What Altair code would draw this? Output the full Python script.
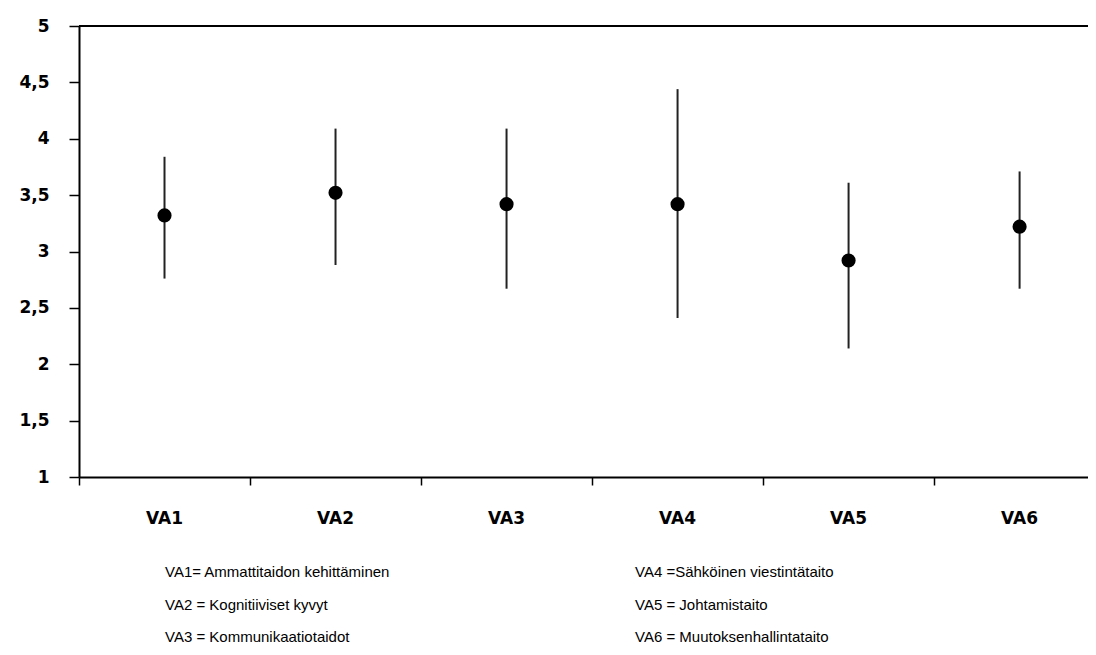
import altair as alt
import pandas as pd

categories = ["VA1", "VA2", "VA3", "VA4", "VA5", "VA6"]
means = [3.32, 3.52, 3.42, 3.42, 2.92, 3.22]
lows = [2.76, 2.88, 2.67, 2.41, 2.14, 2.67]
highs = [3.84, 4.09, 4.09, 4.44, 3.61, 3.71]

y_ticks = [1, 1.5, 2, 2.5, 3, 3.5, 4, 4.5, 5]

legend_left = [
    "VA1= Ammattitaidon kehittäminen",
    "VA2 = Kognitiiviset kyvyt",
    "VA3 = Kommunikaatiotaidot",
]
legend_right = [
    "VA4 =Sähköinen viestintätaito",
    "VA5 = Johtamistaito",
    "VA6 = Muutoksenhallintataito",
]

W, H = 1009, 451
XMAX = 5.9

df = pd.DataFrame({
    "cat": categories,
    "idx": [i + 0.5 for i in range(len(categories))],
    "mean": means,
    "low": lows,
    "high": highs,
})

leg_rows = []
for col, items in enumerate([legend_left, legend_right]):
    for row, t in enumerate(items):
        leg_rows.append({"text": t, "col": col, "row": row})
leg_df = pd.DataFrame(leg_rows)

xscale = alt.Scale(domain=[0, XMAX], nice=False, zero=False)
yscale = alt.Scale(domain=[1, 5], nice=False, zero=False)

x_axis = alt.Axis(values=[0, 1, 2, 3, 4, 5], labels=False, title=None, grid=False,
                  tickSize=8, tickColor="black", tickWidth=1.5,
                  domainColor="black", domainWidth=2)
y_axis = alt.Axis(values=y_ticks, title=None, grid=False, tickSize=10,
                  tickColor="black", tickWidth=1.5, domainColor="black", domainWidth=2,
                  labelExpr="replace(format(datum.value, '~g'), '.', ',')",
                  labelFont="DejaVu Sans", labelFontWeight="bold", labelFontSize=17,
                  labelColor="black", labelPadding=20)

base = alt.Chart(df)

rules = base.mark_rule(color="#222222", strokeWidth=2).encode(
    x=alt.X("idx:Q", scale=xscale, axis=x_axis),
    y=alt.Y("low:Q", scale=yscale, axis=y_axis),
    y2="high:Q",
)

points = base.mark_point(filled=True, color="black", opacity=1, size=200, shape="circle").encode(
    x=alt.X("idx:Q", scale=xscale),
    y=alt.Y("mean:Q", scale=yscale),
)

top_line = alt.Chart(pd.DataFrame({"v": [5]})).mark_rule(color="black", strokeWidth=2).encode(
    y=alt.Y("v:Q", scale=yscale),
    x=alt.value(0),
    x2=alt.value(W),
)

cat_labels = base.mark_text(font="DejaVu Sans", fontWeight="bold", fontSize=17,
                            color="black", baseline="middle", align="center").encode(
    x=alt.X("idx:Q", scale=xscale),
    y=alt.value(H + 42),
    text="cat:N",
)

legend = alt.Chart(leg_df).transform_calculate(
    px="86 + datum.col * 470",
    py=f"{H + 95} + datum.row * 32.5",
).mark_text(font="Liberation Sans", fontSize=15, color="black",
            align="left", baseline="middle").encode(
    x=alt.X("px:Q", scale=None),
    y=alt.Y("py:Q", scale=None),
    text="text:N",
)

chart = alt.layer(top_line, rules, points, cat_labels, legend).properties(
    width=W, height=H,
    autosize=alt.AutoSizeParams(type="none"),
    padding={"left": 71, "top": 18, "right": 0, "bottom": 170},
).configure_view(stroke=None).configure(background="white")

chart.save("out.html", embed_options={"renderer": "svg", "actions": False})
